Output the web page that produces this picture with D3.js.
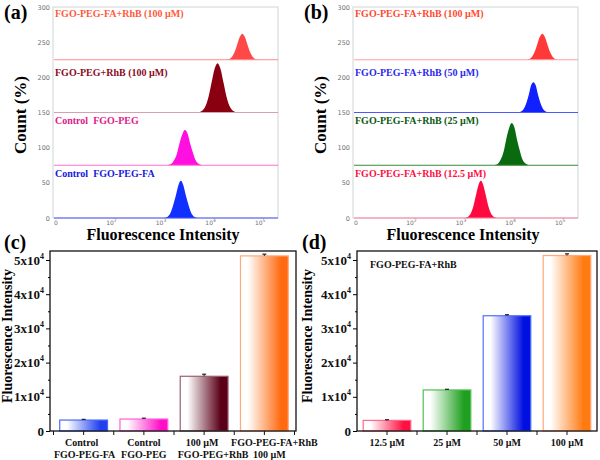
<!DOCTYPE html>
<html><head><meta charset="utf-8">
<script src="https://cdn.jsdelivr.net/npm/d3@7"></script>
<style>body{margin:0;background:#fff} svg{display:block}</style>
</head><body>
<svg id="chart" width="600" height="460"></svg>
<script>
// ---------------- DATA ----------------
// Histogram panels: [log10(fluorescence), count above the stack baseline]
const histA_FA_RhB100 = [[4.34,0.4],[4.39,1.6],[4.44,5.0],[4.49,12.0],[4.54,22.5],[4.59,32.6],[4.64,37],[4.69,32.6],[4.74,22.5],[4.79,12.0],[4.84,5.0],[4.89,1.6],[4.94,0.4]];
const histA_PEG_RhB100 = [[3.78,0.8],[3.84,3.1],[3.90,9.5],[3.96,22.8],[4.02,42.5],[4.08,61.7],[4.14,70],[4.20,61.7],[4.26,42.5],[4.32,22.8],[4.38,9.5],[4.44,3.1],[4.50,0.8]];
const histA_CtrlPEG = [[3.15,0.6],[3.21,2.2],[3.26,6.8],[3.32,16.3],[3.37,30.4],[3.43,44.1],[3.48,50],[3.54,44.1],[3.59,30.4],[3.65,16.3],[3.70,6.8],[3.76,2.2],[3.81,0.6]];
const histA_CtrlPEGFA = [[3.09,0.6],[3.14,2.3],[3.19,7.2],[3.24,17.2],[3.30,32.2],[3.35,46.7],[3.40,53],[3.45,46.7],[3.50,32.2],[3.56,17.2],[3.61,7.2],[3.66,2.3],[3.71,0.6]];
const histB_100 = [[4.34,0.4],[4.39,1.6],[4.44,5.0],[4.49,12.0],[4.54,22.5],[4.59,32.6],[4.64,37],[4.69,32.6],[4.74,22.5],[4.79,12.0],[4.84,5.0],[4.89,1.6],[4.94,0.4]];
const histB_50 = [[4.18,0.5],[4.22,1.9],[4.27,5.8],[4.32,14.0],[4.37,26.1],[4.41,37.9],[4.46,43],[4.51,37.9],[4.55,26.1],[4.60,14.0],[4.65,5.8],[4.70,1.9],[4.74,0.5]];
const histB_25 = [[3.69,0.7],[3.75,2.6],[3.80,8.1],[3.86,19.5],[3.91,36.4],[3.97,52.9],[4.02,60],[4.08,52.9],[4.13,36.4],[4.19,19.5],[4.24,8.1],[4.30,2.6],[4.35,0.7]];
const histB_12_5 = [[3.10,0.6],[3.15,2.3],[3.20,7.2],[3.25,17.2],[3.30,32.2],[3.35,46.7],[3.40,53],[3.45,46.7],[3.50,32.2],[3.55,17.2],[3.60,7.2],[3.65,2.3],[3.70,0.6]];
const histLabelsA = ["FGO-PEG-FA+RhB (100 µM)","FGO-PEG+RhB (100 µM)","Control  FGO-PEG","Control  FGO-PEG-FA"];
const histLabelsB = ["FGO-PEG-FA+RhB (100 µM)","FGO-PEG-FA+RhB (50 µM)","FGO-PEG-FA+RhB (25 µM)","FGO-PEG-FA+RhB (12.5 µM)"];
const histStackStep = 75;
const histYTicks = [0,50,100,150,200,250,300];
const histXTickBase = ["0","10","10","10","10"];
const histXTickExp = ["","2","3","4","5"];
const histXTickLogPos = [0.88,2,3,4,5];

// Bar panels
const barCatsC = [["Control","FGO-PEG-FA"],["Control","FGO-PEG"],["100 µM","FGO-PEG+RhB"],["FGO-PEG-FA+RhB","100 µM"]];
const barValsC = [3200,3500,16000,51200];
const barErrC = [200,250,600,500];
const barCatsD = ["12.5 µM","25 µM","50 µM","100 µM"];
const barValsD = [3100,12000,33700,51300];
const barErrD = [200,200,300,500];
const barYTicks = [0,10000,20000,30000,40000,50000];
const barYMinor = [5000,15000,25000,35000,45000];

// ---------------- STYLE ----------------
const histFillA = ["#ff4848","#8a0010","#ff10e0","#1030ff"];
const histTextA = ["#ff5a3c","#8b0a1e","#e0208a","#1818e0"];
const histLineA = ["#ff8a8a","#d8a0b0","#ff70d0","#5050ff"];
const histFillB = ["#ff3838","#1020ff","#0a6a10","#ff0a40"];
const histTextB = ["#ff4a30","#2a2aee","#0a5a14","#ff1044"];
const histLineB = ["#ffa0a0","#4a5aff","#3a8a3a","#ff80a0"];
const barFillC = ["#2040f0","#ff10c8","#5a0018","#ff6a10"];
const barStrokeC = ["#4a6af4","#ff60d8","#9a6070","#ffa878"];
const barFillD = ["#ff1040","#20a020","#0010e0","#ff7a10"];
const barStrokeD = ["#ff6a88","#50c050","#5070ff","#ffa878"];
const serif = "'Liberation Serif','DejaVu Serif',serif";

const svg = d3.select("#chart");
const defs = svg.append("defs");

function makeGrad(id, col){
  const g = defs.append("linearGradient").attr("id", id).attr("x1","0").attr("x2","1").attr("y1","0").attr("y2","0");
  g.append("stop").attr("offset","0").attr("stop-color","#ffffff");
  g.append("stop").attr("offset","0.15").attr("stop-color","#ffffff");
  g.append("stop").attr("offset","0.85").attr("stop-color",col);
  g.append("stop").attr("offset","1").attr("stop-color",col);
}

// ---------------- HISTOGRAM PANELS ----------------
function histPanel(ox, series, labels, fills, texts, lines, tag){
  const g = svg.append("g").attr("transform", `translate(${ox},0)`);
  const x = d3.scaleLinear().domain([0.82,5.36]).range([53,278]);
  const y = d3.scaleLinear().domain([0,300]).range([218,7]);
  g.append("rect").attr("x",53).attr("y",7).attr("width",225).attr("height",211)
    .attr("fill","none").attr("stroke","#cdd5d5").attr("stroke-width",1);
  const n = series.length;
  series.forEach((s,i)=>{
    const base = (n-1-i)*histStackStep;
    const area = d3.area().x(d=>x(d[0])).y0(y(base)).y1(d=>y(base+d[1])).curve(d3.curveMonotoneX);
    g.append("path").attr("d", area(s)).attr("fill", fills[i]);
    g.append("line").attr("x1",54).attr("x2",278).attr("y1",y(base)).attr("y2",y(base))
      .attr("stroke", lines[i]).attr("stroke-width",1.2);
  });
  const labY = [17,76,124,177];
  labels.forEach((t,i)=>{
    g.append("text").attr("x",55).attr("y",labY[i]).attr("font-family",serif).attr("font-weight","bold")
      .attr("font-size",10).attr("fill",texts[i]).attr("xml:space","preserve").style("white-space","pre").text(t);
  });
  histYTicks.forEach(v=>{
    g.append("text").attr("x",50).attr("y",y(v)+2.5).attr("text-anchor","end")
      .attr("font-family","'DejaVu Sans',sans-serif").attr("font-size",6.5).attr("fill","#707070").text(v);
  });
  histXTickBase.forEach((t,i)=>{
    const tx = g.append("text").attr("x",x(histXTickLogPos[i])).attr("y",224.5).attr("text-anchor","middle")
      .attr("font-family","'DejaVu Sans',sans-serif").attr("font-size",6).attr("fill","#707070");
    tx.append("tspan").text(t);
    if(histXTickExp[i]) tx.append("tspan").attr("dy",-2.5).attr("font-size",4.5).text(histXTickExp[i]);
  });
  g.append("text").attr("x",163).attr("y",240).attr("text-anchor","middle").attr("font-family",serif)
    .attr("font-weight","bold").attr("font-size",16).text("Fluorescence Intensity");
  g.append("text").attr("transform","translate(26,115) rotate(-90)").attr("text-anchor","middle")
    .attr("font-family",serif).attr("font-weight","bold").attr("font-size",17).text("Count (%)");
  g.append("text").attr("x",4).attr("y",19).attr("font-family",serif).attr("font-weight","bold")
    .attr("font-size",20).text(tag);
}

histPanel(0, [histA_FA_RhB100, histA_PEG_RhB100, histA_CtrlPEG, histA_CtrlPEGFA], histLabelsA, histFillA, histTextA, histLineA, "(a)");
histPanel(300, [histB_100, histB_50, histB_25, histB_12_5], histLabelsB, histFillB, histTextB, histLineB, "(b)");

// ---------------- BAR PANELS ----------------
function barPanel(opt){
  const g = svg.append("g");
  const y = d3.scaleLinear().domain([0,52630]).range([431,251]);
  const x = d3.scaleBand().domain(d3.range(opt.vals.length)).range(opt.bandRange).paddingInner(0.19).paddingOuter(0.095);
  opt.vals.forEach((v,i)=>{
    const id = opt.key+"g"+i;
    makeGrad(id, opt.fills[i]);
    g.append("rect").attr("x",x(i)+0.5).attr("y",y(v)).attr("width",x.bandwidth()-1).attr("height",y(0)-y(v))
      .attr("fill",`url(#${id})`).attr("stroke",opt.strokes[i]).attr("stroke-width",1.2);
    const cx = x(i)+x.bandwidth()/2;
    g.append("line").attr("x1",cx).attr("x2",cx).attr("y1",y(v)).attr("y2",y(v+opt.errs[i])).attr("stroke","#222").attr("stroke-width",1);
    g.append("line").attr("x1",cx-2).attr("x2",cx+2).attr("y1",y(v+opt.errs[i])).attr("y2",y(v+opt.errs[i])).attr("stroke","#222").attr("stroke-width",1.2);
  });
  g.append("rect").attr("x",opt.left).attr("y",251).attr("width",opt.right-opt.left).attr("height",180)
    .attr("fill","none").attr("stroke","#111").attr("stroke-width",1.3);
  const ya = g.append("g").attr("transform",`translate(${opt.left},0)`)
    .call(d3.axisLeft(y).tickValues(barYTicks).tickSize(4).tickPadding(2));
  ya.select(".domain").remove();
  ya.selectAll("text").attr("font-family",serif).attr("font-weight","bold").attr("font-size",13).attr("fill","#111")
    .each(function(d){
      const t = d3.select(this); t.text(null);
      if(d===0){ t.text("0"); }
      else { t.append("tspan").text((d/10000)+"x10"); t.append("tspan").attr("dy",-6).attr("font-size",8).text("4"); }
    });
  const ym = g.append("g").attr("transform",`translate(${opt.left},0)`)
    .call(d3.axisLeft(y).tickValues(barYMinor).tickSize(2).tickFormat(""));
  ym.select(".domain").remove();
  const tk = [];
  opt.vals.forEach((v,i)=>{ tk.push(x(i)+x.bandwidth()/2); });
  const step = x.step();
  for(let i=0;i<=opt.vals.length;i++){ tk.push(opt.bandRange[0]+i*step); }
  tk.forEach(t=>{ if(t>opt.left+1 && t<opt.right-1) g.append("line").attr("x1",t).attr("x2",t).attr("y1",431).attr("y2",435).attr("stroke","#111"); });
  opt.cats.forEach((c,i)=>{
    const cx = x(i)+x.bandwidth()/2;
    const lines = Array.isArray(c)?c:[c];
    lines.forEach((ln,j)=>{
      const dx = opt.dx ? opt.dx[i][j] : 0;
      g.append("text").attr("x",cx+dx).attr("y",446+j*12).attr("text-anchor","middle").attr("font-family",serif)
        .attr("font-weight","bold").attr("font-size",10).attr("fill","#111").text(ln);
    });
  });
  g.append("text").attr("transform",`translate(${opt.titleX},336) rotate(-90)`).attr("text-anchor","middle")
    .attr("font-family",serif).attr("font-weight","bold").attr("font-size",14).text("Fluorescence Intensity");
  g.append("text").attr("x",opt.tagX).attr("y",249).attr("font-family",serif).attr("font-weight","bold")
    .attr("font-size",20).text(opt.tag);
  return g;
}

barPanel({key:"c", vals:barValsC, errs:barErrC, cats:barCatsC, fills:barFillC, strokes:barStrokeC,
  left:50, right:296, bandRange:[53.5,294.5], titleX:12, tagX:4, tag:"(c)",
  dx:[[-2,1],[0,0],[-2,9],[10,5]]});
const gd = barPanel({key:"d", vals:barValsD, errs:barErrD, cats:barCatsD, fills:barFillD, strokes:barStrokeD,
  left:357, right:597, bandRange:[357,597], titleX:312, tagX:302, tag:"(d)"});
gd.append("text").attr("x",370).attr("y",268).attr("font-family",serif).attr("font-weight","bold")
  .attr("font-size",10).attr("fill","#111").text("FGO-PEG-FA+RhB");
</script>
</body></html>
